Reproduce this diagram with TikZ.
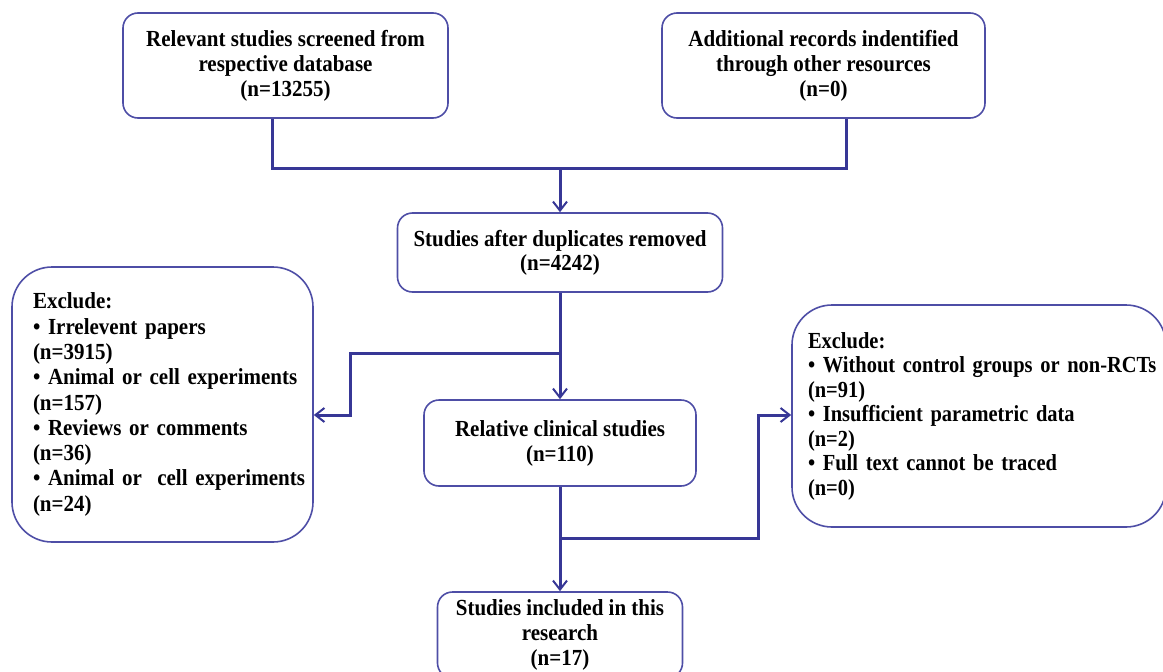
\documentclass[tikz,border=0pt]{standalone}
\usepackage{fontspec}
\setmainfont{Liberation Serif}
\newfontfamily\flowfont[FakeStretch=0.913]{Liberation Serif}
\newfontfamily\narrowfont[FakeStretch=0.89]{Liberation Serif}
\usetikzlibrary{arrows.meta}

\definecolor{flowblue}{RGB}{55,55,150}
\definecolor{edgeblue}{RGB}{78,78,166}

\begin{document}
\begin{tikzpicture}[x=1pt, y=-1pt,
        font=\flowfont\fontsize{23}{25}\selectfont\bfseries,
        stage/.style={draw=edgeblue, line width=1.6pt, rounded corners=15pt, align=center, inner sep=0pt},
        exclbox/.style={draw=edgeblue, line width=1.6pt, rounded corners=40pt, align=left, inner ysep=0pt},
        conn/.style={draw=flowblue, line width=3pt},
        flowarrow/.style={conn, -{Straight Barb[length=9pt,width=14pt,line width=2pt]}}]

        % Page size
        \useasboundingbox (0,0) rectangle (1163,672);

        % Identification
        \node[stage, minimum width=325, minimum height=105] (screened) at (285.5,65.5)
            {Relevant studies screened from\\respective database\\(n=13255)};
        \node[stage, minimum width=323, minimum height=105] (additional) at (823.5,65.5)
            {Additional records indentified\\through other resources\\(n=0)};

        % Screening
        \node[stage, minimum width=325, minimum height=79,
              font=\flowfont\fontsize{23}{24}\selectfont\bfseries] (dedup) at (560,252.5)
            {Studies after duplicates removed\\(n=4242)};
        \node[stage, minimum width=272, minimum height=86] (relative) at (560,443)
            {Relative clinical studies\\(n=110)};
        \node[stage, minimum width=245, minimum height=86] (included) at (560,635)
            {Studies included in this\\research\\(n=17)};

        % Exclusion boxes
        \node[exclbox, text width=259, inner xsep=21, minimum height=275,
              font=\flowfont\fontsize{23}{25.3}\selectfont\bfseries] (exclA) at (162.5,404.5)
            {Exclude:\\
             \mbox{• Irrelevent papers}\\
             (n=3915)\\
             \mbox{• Animal or cell experiments}\\
             (n=157)\\
             \mbox{• Reviews or comments}\\
             (n=36)\\
             \mbox{• Animal or\ \ cell experiments}\\
             (n=24)};
        \node[exclbox, text width=342, inner xsep=16, minimum height=222,
              font=\narrowfont\fontsize{23}{24.5}\selectfont\bfseries] (exclB) at (979,416)
            {Exclude:\\
             \mbox{• Without control groups or non-RCTs}\\
             (n=91)\\
             \mbox{• Insufficient parametric data}\\
             (n=2)\\
             \mbox{• Full text cannot be traced}\\
             (n=0)};

        % Junction points
        \coordinate (merge) at (560,168);
        \coordinate (split1) at (560,353);
        \coordinate (bend1) at (350,415);
        \coordinate (split2) at (560,538);
        \coordinate (bend2) at (758,415);

        % Connectors
        \draw[conn] ([xshift=-13.5pt]screened.south) |- (merge) -| ([xshift=22.5pt]additional.south);
        \draw[flowarrow] (merge) -- (dedup.north);
        \draw[flowarrow] (dedup.south) -- (relative.north);
        \draw[flowarrow] (split1) -| (bend1) -- (bend1 -| exclA.east);
        \draw[flowarrow] (relative.south) -- (included.north);
        \draw[flowarrow] (split2) -| (bend2) -- (bend2 -| exclB.west);

    \end{tikzpicture}
\end{document}
